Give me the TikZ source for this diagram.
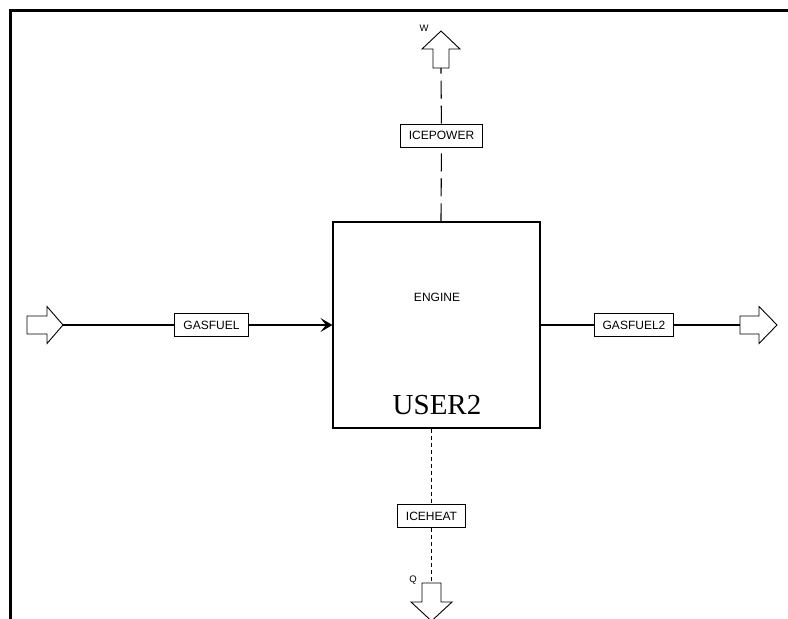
\documentclass[tikz,border=0pt]{standalone}
\usepackage{fontspec}
\setmainfont{Liberation Serif}
\setsansfont{Liberation Sans}
\usetikzlibrary{arrows.meta}

\begin{document}
\begin{tikzpicture}[x=1pt, y=-1pt,
    streambox/.style={draw, rectangle, line width=1pt, minimum height=23pt, inner xsep=8.5pt, inner ysep=0pt, fill=white, font=\sffamily\fontsize{12}{14}\selectfont},
    portarrow/.style={draw, line width=0.9pt, fill=white, line join=miter},
    portname/.style={inner sep=0pt, font=\sffamily\fontsize{9.5}{10}\selectfont},
    flow/.style={line width=1.1pt}]
    \useasboundingbox (0,0) rectangle (788,619);

    % Sheet border
    \draw[line width=3pt] (10.5,619) -- (10.5,10.5) -- (788,10.5);

    % Define nodes
    \node[draw, rectangle, line width=1.1pt, minimum width=207pt, minimum height=206pt] (engine) at (436.5,325) {};
    \node[font=\sffamily\fontsize{12}{14}\selectfont] (enginetag) at (437,297) {ENGINE};
    \node[font=\fontsize{29}{32}\selectfont] (enginetype) at (437,405) {USER2};

    \node[streambox] (gasfuel) at (211.5,325) {GASFUEL};
    \node[streambox] (gasfuel2) at (634,325) {GASFUEL2};
    \node[streambox] (icepower) at (441.5,135.5) {ICEPOWER};
    \node[streambox] (iceheat) at (431.5,516) {ICEHEAT};

    % Feed and product ports
    \draw[portarrow] (27,316) -- (47,316) -- (47,306.5) -- (63,325) -- (47,343.5) -- (47,334) -- (27,334) -- cycle;
    \coordinate (gasin) at (63,325);
    \draw[portarrow] (740,316) -- (759,316) -- (759,306.5) -- (777,325) -- (759,343.5) -- (759,334) -- (740,334) -- cycle;
    \coordinate (gasout) at (740,325);
    \draw[portarrow] (433,68) -- (433,49) -- (422,49) -- (441,31) -- (460,49) -- (449,49) -- (449,68) -- cycle;
    \coordinate (work) at (441,68);
    \node[portname] (worklabel) at (424,28) {W};
    \draw[portarrow] (422,583) -- (441,583) -- (441,602) -- (452,602) -- (431.5,621) -- (411,602) -- (422,602) -- cycle;
    \coordinate (heat) at (431.5,583);
    \node[portname] (heatlabel) at (413,580) {Q};

    % Define connections
    \draw[flow] (gasin) -- (gasfuel);
    \draw[flow, -{Stealth[length=12pt, width=14pt, inset=5.5pt]}] (gasfuel) -- (engine);
    \draw[flow] (engine.east) -- (gasfuel2) -- (gasout);
    \draw[flow, dash pattern=on 18pt off 7pt] (work |- engine.north) -- (icepower) -- (work);
    \draw[flow, dash pattern=on 4pt off 3pt] (heat |- engine.south) -- (iceheat) -- (heat);
\end{tikzpicture}
\end{document}
